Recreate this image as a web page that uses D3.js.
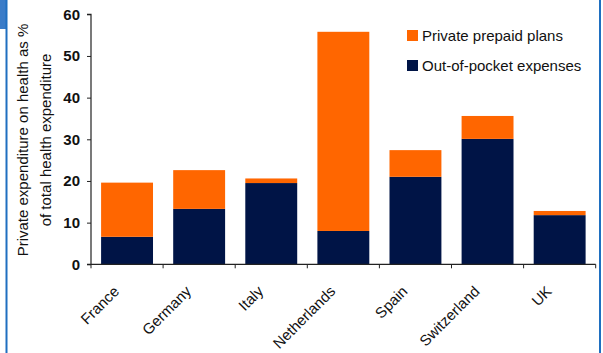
<!DOCTYPE html>
<html><head><meta charset="utf-8">
<script src="https://cdn.jsdelivr.net/npm/d3@7/dist/d3.min.js"></script>
<style>body{margin:0;background:#fff}svg{display:block}</style>
</head><body>
<svg id="c" width="603" height="353"></svg>
<script>
const categories = ["France","Germany","Italy","Netherlands","Spain","Switzerland","UK"];
const outOfPocket = [6.6, 13.3, 19.5, 8.0, 21.0, 30.1, 11.8];
const prepaidPlans = [13.0, 9.3, 1.1, 47.8, 6.4, 5.5, 1.0];
const yTicks = [0,10,20,30,40,50,60];
const seriesNames = ["Private prepaid plans","Out-of-pocket expenses"];
const colors = {prepaid:"#FF6600", oop:"#001446"};

const svg = d3.select("#c");
const font = "'Liberation Sans', Arial, sans-serif";

// frame decoration
svg.append("rect").attr("x",0).attr("y",0).attr("width",6).attr("height",29).attr("fill","#3A7CC8");
svg.append("rect").attr("x",5.5).attr("y",0).attr("width",2).attr("height",353).attr("fill","#1F6FC0");
svg.append("rect").attr("x",599).attr("y",0).attr("width",2).attr("height",353).attr("fill","#1F6FC0");

const x = d3.scaleBand().domain(categories).range([91, 595.7]).paddingInner(0.28).paddingOuter(0.14);
const y = d3.scaleLinear().domain([0,60]).range([264.3, 14.3]);

const data = categories.map((c,i)=>({c, oop:outOfPocket[i], pre:prepaidPlans[i]}));

const g = svg.append("g");
g.selectAll("rect.oop").data(data).join("rect").attr("class","oop")
  .attr("x",d=>x(d.c)).attr("width",x.bandwidth())
  .attr("y",d=>y(d.oop)).attr("height",d=>y(0)-y(d.oop)).attr("fill",colors.oop);
g.selectAll("rect.pre").data(data).join("rect").attr("class","pre")
  .attr("x",d=>x(d.c)).attr("width",x.bandwidth())
  .attr("y",d=>y(d.oop+d.pre)).attr("height",d=>y(d.oop)-y(d.oop+d.pre)).attr("fill",colors.prepaid);

// y axis
const ya = svg.append("g").attr("transform","translate(91,0)")
  .call(d3.axisLeft(y).tickValues(yTicks).tickSize(4).tickPadding(7).tickFormat(d3.format("d")));
ya.select(".domain").attr("stroke","#222").attr("stroke-width",1.2).attr("d","M-4,"+y(60)+"H0V"+y(0)+"H-4");
ya.selectAll(".tick line").attr("stroke","#222");
ya.selectAll("text").attr("font-family",font).attr("font-size",15).attr("font-weight","bold").attr("fill","#111");

// x axis: ticks at band boundaries
const xa = svg.append("g");
xa.append("line").attr("x1",91).attr("x2",595.7).attr("y1",y(0)).attr("y2",y(0)).attr("stroke","#222").attr("stroke-width",1.2);
const bounds = categories.map(c=>x(c)-x.step()*x.paddingInner()/2).concat([595.7]);
xa.selectAll("line.t").data(bounds).join("line").attr("class","t")
  .attr("x1",d=>d).attr("x2",d=>d).attr("y1",y(0)).attr("y2",y(0)+4).attr("stroke","#222");
xa.selectAll("text").data(categories).join("text")
  .attr("transform",d=>`translate(${x(d)+x.bandwidth()/2-7},${y(0)+28}) rotate(-45)`)
  .attr("text-anchor","end").attr("font-family",font).attr("font-size",15).attr("fill","#111")
  .text(d=>d);

// y title
const tt = svg.append("text").attr("transform",`translate(0,140) rotate(-90)`)
  .attr("text-anchor","middle").attr("font-family",font).attr("font-size",15).attr("fill","#111");
tt.append("tspan").attr("x",0).attr("y",28).text("Private expenditure on health as %");
tt.append("tspan").attr("x",0).attr("y",51).text("of total health expenditure");

// legend
const legItems = [{n:seriesNames[0],c:colors.prepaid},{n:seriesNames[1],c:colors.oop}];
const lg = svg.append("g").selectAll("g").data(legItems).join("g")
  .attr("transform",(d,i)=>`translate(407,${30+i*30})`);
lg.append("rect").attr("width",11).attr("height",11).attr("fill",d=>d.c);
lg.append("text").attr("x",15).attr("y",10.5).attr("font-family",font).attr("font-size",15).attr("fill","#111").text(d=>d.n);
</script>
</body></html>
